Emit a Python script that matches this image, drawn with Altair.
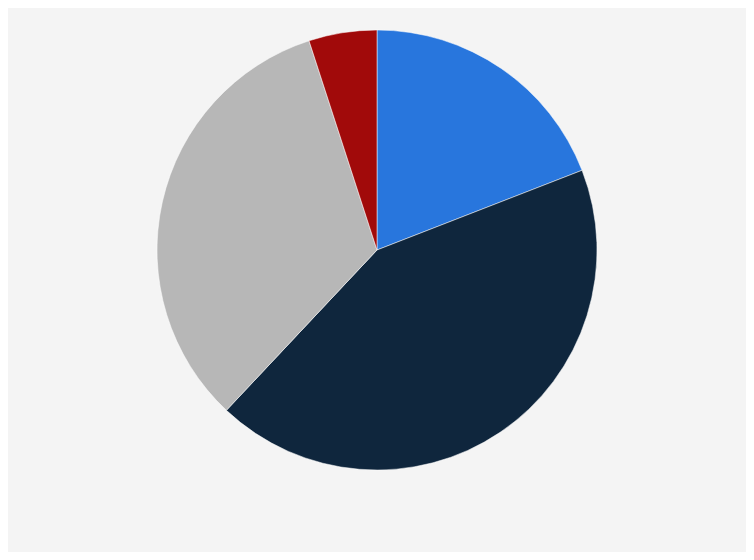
import altair as alt
import pandas as pd

categories = ["A", "B", "C", "D"]
values = [19.1, 42.9, 33.0, 5.0]
colors = ["#2876dd", "#0f263d", "#b7b7b7", "#a10a0a"]

df = pd.DataFrame({"category": categories, "value": values, "order": list(range(len(categories)))})

chart = alt.Chart(df).mark_arc(outerRadius=220, stroke="#ffffff", strokeWidth=0.5).encode(
    theta=alt.Theta("value:Q", stack=True),
    color=alt.Color("category:N", scale=alt.Scale(domain=categories, range=colors), legend=None),
    order=alt.Order("order:Q"),
    x=alt.value(369),
    y=alt.value(242),
).properties(
    width=738, height=544, padding=0, background="#f4f4f4",
    autosize=alt.AutoSizeParams(type="none"),
).configure_view(stroke=None)

chart.save("out.html", embed_options={"renderer": "svg", "actions": False})
